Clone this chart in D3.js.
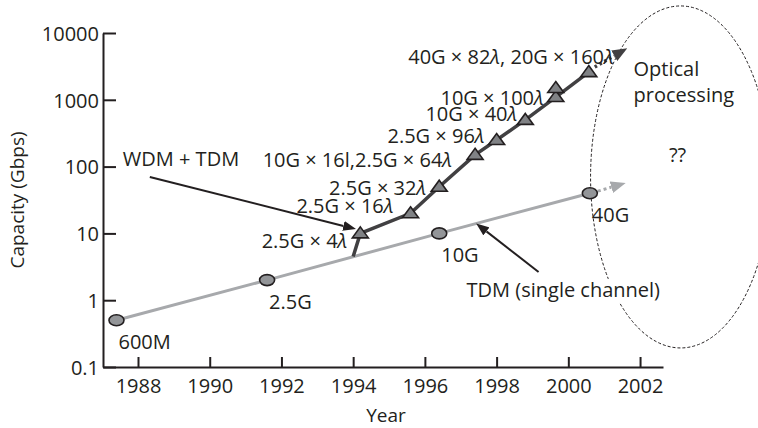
<!DOCTYPE html>
<html>
<head>
<meta charset="utf-8">
<script src="https://cdn.jsdelivr.net/npm/d3@7"></script>
<style>
body { margin: 0; background: #fff; }
text { font-family: "Open Sans", sans-serif; fill: #231f20; }
</style>
</head>
<body>
<div id="chart"></div>
<script>
// axis ticks
var yearTicks = [1988, 1990, 1992, 1994, 1996, 1998, 2000, 2002];
var capTicks = [0.1, 1, 10, 100, 1000, 10000];
var capTickLabels = ["0.1", "1", "10", "100", "1000", "10000"];

// TDM (single channel) series
var tdmYears = [1987.4, 1991.6, 1996.4, 2000.6];
var tdmValues = [0.5, 2, 10, 40];
var tdmLabels = ["600M", "2.5G", "10G", "40G"];
var tdmNext = [2001.6, 57];          // dotted continuation

// WDM + TDM series
var wdmStart = [1994.0, 4.5];        // leaves the TDM line here
var wdmYears = [1994.2, 1995.6, 1996.4, 1997.4, 1998.0, 1998.8, 1999.65, 1999.65, 2000.57];
var wdmValues = [10, 20, 50, 150, 250, 500, 1100, 1500, 2600];
var wdmLabels = ["2.5G × 4λ", "2.5G × 16λ", "2.5G × 32λ", "10G × 16l,2.5G × 64λ",
                 "2.5G × 96λ", "10G × 40λ", "10G × 100λ", "", "40G × 82λ, 20G × 160λ"];
var wdmOnLine = [true, true, true, true, true, true, true, false, true];
var wdmNext = [2001.62, 5800];

// label offsets (px) for the WDM labels, text ends here
var wdmLabelDx = [-13, -17, -13, -23, -12, -8, -12, 0, 25];
var wdmLabelDy = [15, 0, 8, 12, 3, 1.5, 8, 0, -8];

// annotation arrows [tailYear, tailValue, headYear, headValue]
var wdmArrow = [1988.33, 70, 1994.08, 11.6];
var tdmArrow = [1999.17, 2.65, 1997.43, 14.1];
// future region
var futureCenter = [2003.13, 70];

var svgWidth = 758;
var svgHeight = 428;
var margin = { top: 33, right: 95, bottom: 61, left: 103 };
var width = svgWidth - margin.left - margin.right;
var height = svgHeight - margin.top - margin.bottom;

var svg = d3.select("#chart")
    .append("svg")
    .attr("width", svgWidth)
    .attr("height", svgHeight);

var defs = svg.append("defs");
function makeMarker(id, color, len, wid) {
    defs.append("marker")
        .attr("id", id)
        .attr("viewBox", `0 0 ${len} ${wid}`)
        .attr("refX", 0)
        .attr("refY", wid / 2)
        .attr("markerWidth", len)
        .attr("markerHeight", wid)
        .attr("markerUnits", "userSpaceOnUse")
        .attr("orient", "auto")
        .append("path")
        .attr("d", `M0,0L${len},${wid / 2}L0,${wid}Z`)
        .attr("fill", color);
}
makeMarker("arrBlack", "#231f20", 13, 10);
makeMarker("arrGrey", "#a7a9ac", 15, 12);
makeMarker("arrDark", "#414042", 15, 12);

var chartGroup = svg.append("g")
    .attr("transform", `translate(${margin.left},${margin.top})`);

var xScale = d3.scaleLinear()
    .domain([1987.024, 2002.64])
    .range([0, width]);

var yScale = d3.scaleLog()
    .domain([0.1, 10000])
    .range([height, 0]);

// arrow: line stops short so the head ends at the tip
function arrow(x1, y1, x2, y2, color, w, dash, marker, len) {
    var dx = x2 - x1, dy = y2 - y1;
    var d = Math.sqrt(dx * dx + dy * dy);
    var ex = x2 - dx / d * len, ey = y2 - dy / d * len;
    chartGroup.append("line")
        .attr("x1", x1).attr("y1", y1)
        .attr("x2", ex).attr("y2", ey)
        .attr("stroke", color)
        .attr("stroke-width", w)
        .attr("stroke-dasharray", dash)
        .attr("marker-end", `url(#${marker})`);
}

function lambdaText(sel, str) {
    str.split(/(λ)/).forEach(function(part) {
        if (!part) return;
        var t = sel.append("tspan").text(part);
        if (part === "λ") t.style("font-style", "italic");
    });
}

// axes
var bottomAxis = d3.axisBottom(xScale)
    .tickValues(yearTicks)
    .tickFormat(d3.format("d"))
    .tickSizeInner(-10)
    .tickSizeOuter(0)
    .tickPadding(12);
var leftAxis = d3.axisLeft(yScale)
    .tickValues(capTicks)
    .tickFormat(function(d, i) { return capTickLabels[i]; })
    .tickSizeInner(-13)
    .tickSizeOuter(0)
    .tickPadding(4);

var xg = chartGroup.append("g")
    .attr("transform", `translate(0, ${height})`)
    .call(bottomAxis);
var yg = chartGroup.append("g")
    .call(leftAxis);

[xg, yg].forEach(function(g) {
    g.select(".domain").attr("stroke", "#231f20").attr("stroke-width", 2);
    g.selectAll(".tick line").attr("stroke", "#231f20").attr("stroke-width", 2);
    g.selectAll(".tick text")
        .attr("font-family", "Open Sans")
        .attr("font-size", "20px")
        .attr("fill", "#231f20");
});
yg.selectAll(".tick text").attr("dy", "0.36em");

// axis titles
chartGroup.append("text")
    .attr("transform", "rotate(-90)")
    .attr("x", -height / 2)
    .attr("y", 24 - margin.left)
    .attr("text-anchor", "middle")
    .attr("font-size", "19px")
    .text("Capacity (Gbps)");

chartGroup.append("text")
    .attr("x", width / 2 + 3)
    .attr("y", height + 55)
    .attr("text-anchor", "middle")
    .attr("font-size", "19px")
    .text("Year");

// future region ellipse
var ecx = xScale(futureCenter[0]), ecy = yScale(futureCenter[1]);
chartGroup.append("ellipse")
    .attr("cx", ecx)
    .attr("cy", ecy)
    .attr("rx", 90)
    .attr("ry", 171)
    .attr("fill", "none")
    .attr("stroke", "#231f20")
    .attr("stroke-width", 1)
    .attr("stroke-dasharray", "3,2");

chartGroup.append("text")
    .attr("x", ecx - 47)
    .attr("y", ecy - 101)
    .attr("font-size", "20px")
    .text("Optical");
chartGroup.append("text")
    .attr("x", ecx - 47)
    .attr("y", ecy - 75)
    .attr("font-size", "20px")
    .text("processing");
chartGroup.append("text")
    .attr("x", ecx - 3)
    .attr("y", ecy - 15)
    .attr("text-anchor", "middle")
    .attr("font-size", "20px")
    .text("??");

// TDM line
var tdmData = tdmYears.map(function(d, i) { return { year: d, value: tdmValues[i], label: tdmLabels[i] }; });
var line = d3.line()
    .x(function(d) { return xScale(d.year); })
    .y(function(d) { return yScale(d.value); });

chartGroup.append("path")
    .datum(tdmData)
    .attr("d", line)
    .attr("fill", "none")
    .attr("stroke", "#a7a9ac")
    .attr("stroke-width", 3);

var lastT = tdmData[tdmData.length - 1];
arrow(xScale(lastT.year) + 8, yScale(lastT.value) - 2, xScale(tdmNext[0]), yScale(tdmNext[1]),
    "#a7a9ac", 3, "3,3", "arrGrey", 15);

// WDM line
var wdmData = wdmYears.map(function(d, i) {
    return { year: d, value: wdmValues[i], label: wdmLabels[i], onLine: wdmOnLine[i], dx: wdmLabelDx[i], dy: wdmLabelDy[i] };
});
var wdmLineData = [{ year: wdmStart[0], value: wdmStart[1] }].concat(wdmData.filter(function(d) { return d.onLine; }));

chartGroup.append("path")
    .datum(wdmLineData)
    .attr("d", line)
    .attr("fill", "none")
    .attr("stroke", "#414042")
    .attr("stroke-width", 3.5);

var lastW = wdmData[wdmData.length - 1];
arrow(xScale(lastW.year) + 6, yScale(lastW.value) - 5, xScale(wdmNext[0]), yScale(wdmNext[1]),
    "#414042", 3.5, "2.5,3", "arrDark", 14);

// circles
chartGroup.selectAll(".tdm-pt")
    .data(tdmData)
    .enter()
    .append("ellipse")
    .attr("class", "tdm-pt")
    .attr("cx", function(d) { return xScale(d.year); })
    .attr("cy", function(d) { return yScale(d.value); })
    .attr("rx", 7.5)
    .attr("ry", 5.5)
    .attr("fill", "#939598")
    .attr("stroke", "#231f20")
    .attr("stroke-width", 1.6);

chartGroup.selectAll(".tdm-lbl")
    .data(tdmData)
    .enter()
    .append("text")
    .attr("class", "tdm-lbl")
    .attr("x", function(d) { return xScale(d.year) + 2; })
    .attr("y", function(d) { return yScale(d.value) + 29; })
    .attr("font-size", "20px")
    .text(function(d) { return d.label; });

// triangles
chartGroup.selectAll(".wdm-pt")
    .data(wdmData)
    .enter()
    .append("path")
    .attr("class", "wdm-pt")
    .attr("transform", function(d) { return `translate(${xScale(d.year)},${yScale(d.value)})`; })
    .attr("d", "M0,-6.5L8,4.5L-8,4.5Z")
    .attr("fill", "#808285")
    .attr("stroke", "#231f20")
    .attr("stroke-width", 1.6)
    .attr("stroke-linejoin", "miter");

chartGroup.selectAll(".wdm-lbl")
    .data(wdmData.filter(function(d) { return d.label; }))
    .enter()
    .append("text")
    .attr("class", "wdm-lbl")
    .attr("x", function(d) { return xScale(d.year) + d.dx; })
    .attr("y", function(d) { return yScale(d.value) + d.dy; })
    .attr("text-anchor", "end")
    .attr("font-size", "20px")
    .each(function(d) { lambdaText(d3.select(this), d.label); });

// WDM + TDM annotation
var wx1 = xScale(wdmArrow[0]), wy1 = yScale(wdmArrow[1]);
arrow(wx1, wy1, xScale(wdmArrow[2]), yScale(wdmArrow[3]), "#231f20", 2, null, "arrBlack", 13);
chartGroup.append("text")
    .attr("x", wx1 - 27)
    .attr("y", wy1 - 11)
    .attr("font-size", "20px")
    .text("WDM + TDM");

// TDM annotation
var tx1 = xScale(tdmArrow[0]), ty1 = yScale(tdmArrow[1]);
arrow(tx1, ty1, xScale(tdmArrow[2]), yScale(tdmArrow[3]), "#231f20", 2, null, "arrBlack", 13);
var tdmText = chartGroup.append("text")
    .attr("x", tx1 - 72)
    .attr("y", ty1 + 25)
    .attr("font-size", "20px")
    .text("TDM (single channel)");
var bb = tdmText.node().getBBox();
chartGroup.insert("rect", function() { return tdmText.node(); })
    .attr("x", bb.x)
    .attr("y", bb.y + 3)
    .attr("width", bb.width + 2)
    .attr("height", bb.height - 3)
    .attr("fill", "#fff");
</script>
</body>
</html>
